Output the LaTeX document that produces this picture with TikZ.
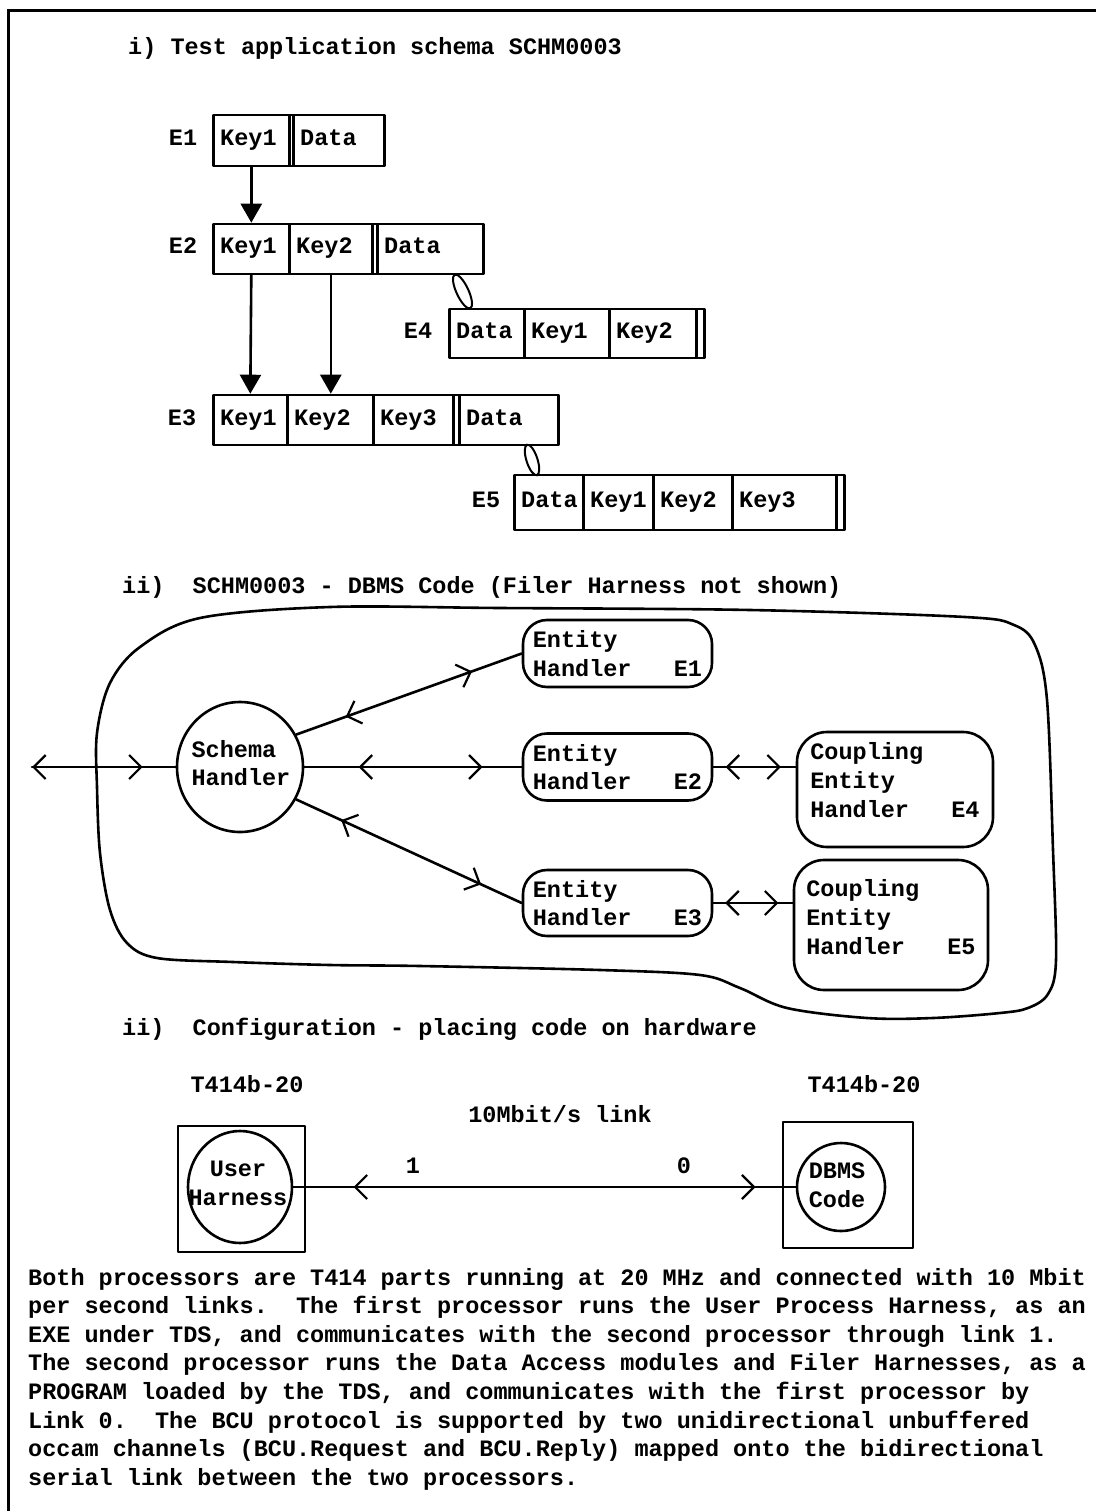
\documentclass[tikz,border=0pt]{standalone}
\usepackage{fontspec}
\setmainfont{Liberation Mono}
\usetikzlibrary{arrows.meta,shapes.geometric,decorations.markings}
\newcommand\typew{\fontsize{23.5}{28.6}\selectfont\bfseries}
% one field of a record: name, left x, width, centre y, height, text
\newcommand\rcell[6]{%
  \node[cellbox, minimum width=#3pt, minimum height=#5pt] (#1) at (#2,#4) {};
  \node[txt, anchor=west] (#1-t) at ([xshift=8pt]#1.west) {#6};}
% the narrow double-rule field: name, left x, width, centre y, height
\newcommand\rgap[5]{%
  \node[cellbox, minimum width=#3pt, minimum height=#5pt] (#1) at (#2,#4) {};}

\tikzset{
  ink/.style={line width=2.6pt, line join=round, line cap=round},
  txt/.style={inner sep=0pt, font=\typew, text height=14pt, text depth=4pt},
  mtxt/.style={inner sep=0pt, font=\typew, align=left},
  cellbox/.style={draw, ink, inner sep=0pt, anchor=west},
  keyarrow/.style={ink, -{Triangle[length=19pt,width=21pt]}},
  handler/.style={draw, ink, rounded corners=24pt, inner sep=0pt},
  proc/.style={draw, ink, ellipse, inner sep=0pt},
  linkloop/.style={draw, line width=2pt, ellipse, inner sep=0pt},
  barb/.tip={Straight Barb[length=12pt,width=24pt,line width=2.2pt]},
  chan/.style 2 args={ink, postaction={decorate}, decoration={markings,
      mark=at position #1 with {\arrowreversed{barb}},
      mark=at position #2 with {\arrow{barb}}}},
}

\begin{document}
\begin{tikzpicture}[x=1pt,y=-1pt]
\useasboundingbox (0,0) rectangle (1096,1511);
% page frame
\draw[line width=3pt] (8,1511) -- (8,11) -- (1096,11);

% ---------- i) record layouts ----------
\node[txt, anchor=west] (title1) at (128,50) {i) Test application schema SCHM0003};

\node[txt] (lab1) at (183,140.5) {E1};
\rcell{e1a}{212}{76}{140.5}{51}{Key1}
\rgap{e1d}{288}{4}{140.5}{51}
\rcell{e1b}{292}{91}{140.5}{51}{Data}

\node[txt] (lab2) at (183,249) {E2};
\rcell{e2a}{212}{76}{249}{50}{Key1}
\rcell{e2b}{288}{83}{249}{50}{Key2}
\rgap{e2d}{371}{5}{249}{50}
\rcell{e2c}{376}{106}{249}{50}{Data}

\node[txt] (lab4) at (418,333.5) {E4};
\rcell{e4a}{448}{75}{333.5}{49}{Data}
\rcell{e4b}{523}{85}{333.5}{49}{Key1}
\rcell{e4c}{608}{87}{333.5}{49}{Key2}
\rgap{e4d}{695}{8}{333.5}{49}

\node[txt] (lab3) at (182,420) {E3};
\rcell{e3a}{212}{74}{420}{50}{Key1}
\rcell{e3b}{286}{86}{420}{50}{Key2}
\rcell{e3c}{372}{80}{420}{50}{Key3}
\rgap{e3d}{452}{6}{420}{50}
\rcell{e3e}{458}{99}{420}{50}{Data}

\node[txt] (lab5) at (486,502.5) {E5};
\rcell{e5a}{513}{69}{502.5}{55}{Data}
\rcell{e5b}{582}{70}{502.5}{55}{Key1}
\rcell{e5c}{652}{79}{502.5}{55}{Key2}
\rcell{e5d}{731}{104}{502.5}{55}{Key3}
\rgap{e5f}{835}{8}{502.5}{55}

% key references
\draw[keyarrow] (e1a.south) -- (e2a.north);
\draw[keyarrow] (e2a.south) -- (e3a.north);
\draw[keyarrow] (e2b.south) -- (e2b.south |- e3b.north);
% coupling links
\node[linkloop, minimum width=37pt, minimum height=12pt, rotate=-65] (lk24) at (462.5,291.5) {};
\node[linkloop, minimum width=32pt, minimum height=11pt, rotate=-72] (lk35) at (532,460) {};

% ---------- ii) DBMS code ----------
\node[txt, anchor=west] (title2) at (122,588) {ii)\ \ SCHM0003 - DBMS Code (Filer Harness not shown)};

\draw[ink] plot[smooth cycle, tension=0.55] coordinates {
  (330,607) (500,608) (750,610) (965,617) (1014,625) (1035,645)
  (1047,700) (1053,850) (1056,960) (1048,994) (1028,1008) (1000,1013)
  (933,1018) (867,1018) (787,1008) (740,988) (700,975) (600,970)
  (420,966) (330,965) (233,962) (157,958) (127,943) (110,910)
  (100,853) (97,787) (97,733) (110,683) (140,647) (200,618)};

\node[proc, minimum width=126pt, minimum height=130pt] (sh) at (240,767) {};
\node[mtxt] (sh-t) at (241,763) {Schema\\Handler};

\node[handler, minimum width=189pt, minimum height=67pt] (eh1) at (617.5,653.5) {};
\node[mtxt] (eh1-t) at (eh1.center) {Entity\\Handler\ \ \ E1};
\node[handler, minimum width=189pt, minimum height=67pt] (eh2) at (617.5,767) {};
\node[mtxt] (eh2-t) at (eh2.center) {Entity\\Handler\ \ \ E2};
\node[handler, minimum width=189pt, minimum height=66pt] (eh3) at (617.5,903) {};
\node[mtxt] (eh3-t) at (eh3.center) {Entity\\Handler\ \ \ E3};

\node[handler, rounded corners=30pt, minimum width=196pt, minimum height=115pt] (ce4) at (895,789.5) {};
\node[mtxt] (ce4-t) at (895,780) {Coupling\\Entity\\Handler\ \ \ E4};
\node[handler, rounded corners=30pt, minimum width=194pt, minimum height=130pt] (ce5) at (891,925) {};
\node[mtxt] (ce5-t) at (891,917) {Coupling\\Entity\\Handler\ \ \ E5};

\coordinate (ext) at (32,767);
\draw[chan={0.001}{0.77}] (ext) -- (sh.west);
\draw[chan={0.22}{0.78}] (sh.30) -- (eh1.west);
\draw[chan={0.25}{0.82}] (sh.east) -- (eh2.west);
\draw[chan={0.2}{0.82}] (sh.-30) -- (eh3.west);
\draw[chan={0.15}{0.82}] (eh2.east) -- (eh2.east -| ce4.west);
\draw[chan={0.15}{0.82}] (eh3.east) -- (eh3.east -| ce5.west);

% ---------- configuration ----------
\node[txt, anchor=west] (title3) at (122,1030) {ii)\ \ Configuration - placing code on hardware};
\node[txt] (cpu1) at (247,1087) {T414b-20};
\node[txt] (cpu2) at (864,1087) {T414b-20};
\node[txt] (rate) at (560,1117) {10Mbit/s link};

\node[draw, ink, minimum width=127pt, minimum height=126pt] (p1) at (241.5,1189) {};
\node[proc, minimum width=104pt, minimum height=112pt] (uh) at (240,1187) {};
\node[mtxt, align=center] (uh-t) at (238,1183.5) {User\\Harness};

\node[draw, ink, minimum width=130pt, minimum height=126pt] (p2) at (848,1185) {};
\node[proc, minimum width=88pt, minimum height=88pt] (db) at (841,1187) {};
\node[mtxt] (db-t) at (837,1185) {DBMS\\Code};

\draw[chan={0.12}{0.92}] (uh.east) -- (db.west);
\node[txt] (n1) at (413,1168) {1};
\node[txt] (n0) at (684,1168) {0};

% ---------- description ----------
\node[txt, anchor=base west] (d1) at (28,1285) {Both processors are T414 parts running at 20 MHz and connected with 10 Mbit};
\node[txt, anchor=base west] (d2) at (28,1313.6) {per second links.\ \ The first processor runs the User Process Harness, as an};
\node[txt, anchor=base west] (d3) at (28,1342.2) {EXE under TDS, and communicates with the second processor through link 1.};
\node[txt, anchor=base west] (d4) at (28,1370.8) {The second processor runs the Data Access modules and Filer Harnesses, as a};
\node[txt, anchor=base west] (d5) at (28,1399.4) {PROGRAM loaded by the TDS, and communicates with the first processor by};
\node[txt, anchor=base west] (d6) at (28,1428) {Link 0.\ \ The BCU protocol is supported by two unidirectional unbuffered};
\node[txt, anchor=base west] (d7) at (28,1456.6) {occam channels (BCU.Request and BCU.Reply) mapped onto the bidirectional};
\node[txt, anchor=base west] (d8) at (28,1485.2) {serial link between the two processors.};
\end{tikzpicture}
\end{document}
